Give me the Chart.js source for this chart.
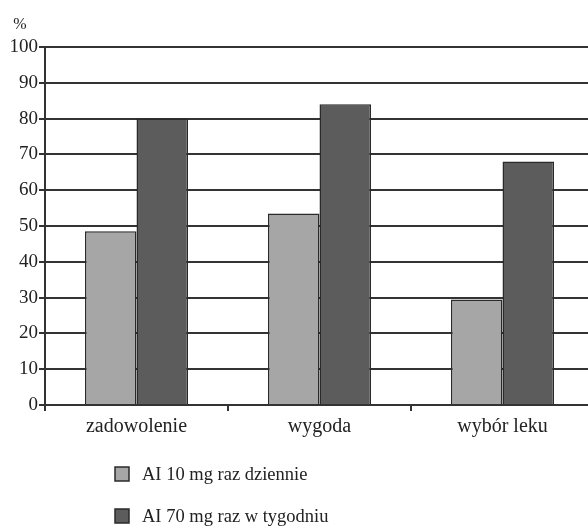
<!DOCTYPE html>
<html lang="pl">
<head>
    <meta charset="UTF-8">
    <title>AI 10 mg vs AI 70 mg</title>
    <script src="https://cdn.jsdelivr.net/npm/chart.js"></script>
    <style>
        html, body { margin: 0; padding: 0; background: #fff; overflow: hidden; }
        #wykres { display: block; }
    </style>
</head>
<body>
    <canvas id="wykres" width="594" height="530"></canvas>

    <script>
        // dane do wykresu
        const kategorie = ['zadowolenie', 'wygoda', 'wybór leku'];
        const serie = ['AI 10 mg raz dziennie', 'AI 70 mg raz w tygodniu'];
        const dzienne = [48.5, 53.5, 29.5];
        const tygodniowe = [80, 84, 68];
        const osY = [0, 10, 20, 30, 40, 50, 60, 70, 80, 90, 100];

        const czcionka = '"Liberation Serif", "Times New Roman", serif';
        const linia = '#333333';

        // znak % nad osią Y
        const procent = {
            id: 'procent',
            afterDraw(chart) {
                const ctx = chart.ctx;
                const y = chart.scales.y;
                ctx.save();
                ctx.font = '16px ' + czcionka;
                ctx.fillStyle = '#222';
                ctx.textAlign = 'center';
                ctx.textBaseline = 'middle';
                ctx.fillText('%', y.left + 20, 25);
                ctx.restore();
            }
        };

        // legenda w dwóch wierszach pod wykresem
        const legenda = {
            id: 'legenda',
            afterDraw(chart) {
                const ctx = chart.ctx;
                ctx.save();
                ctx.font = '18.5px ' + czcionka;
                ctx.textBaseline = 'middle';
                chart.data.datasets.forEach((ds, i) => {
                    const cy = 474 + i * 42;
                    ctx.fillStyle = ds.backgroundColor;
                    ctx.fillRect(115, cy - 7, 14, 14);
                    ctx.strokeStyle = '#2a2a2a';
                    ctx.lineWidth = 1.5;
                    ctx.strokeRect(115, cy - 7, 14, 14);
                    ctx.fillStyle = '#222';
                    ctx.fillText(ds.label, 142, cy + 1);
                });
                ctx.restore();
            }
        };

        new Chart(document.getElementById('wykres'), {
            type: 'bar',
            data: {
                labels: kategorie,
                datasets: [
                    {
                        label: serie[0],
                        data: dzienne,
                        backgroundColor: '#a6a6a6',
                        borderColor: '#2a2a2a',
                        borderWidth: 1.5
                    },
                    {
                        label: serie[1],
                        data: tygodniowe,
                        backgroundColor: '#5c5c5c',
                        borderColor: '#2a2a2a',
                        borderWidth: 1.5
                    }
                ]
            },
            options: {
                responsive: false,
                animation: false,
                categoryPercentage: 0.563,
                barPercentage: 1,
                layout: { padding: { top: 47, right: 0, bottom: 85, left: 0 } },
                plugins: {
                    legend: { display: false },
                    tooltip: { enabled: false }
                },
                scales: {
                    x: {
                        afterFit(s) { s.height = 40; },
                        grid: {
                            offset: true,
                            drawOnChartArea: false,
                            color: linia,
                            lineWidth: 2,
                            tickLength: 6
                        },
                        border: { color: linia, width: 2 },
                        ticks: {
                            color: '#222',
                            padding: 4,
                            font: { family: czcionka, size: 20 }
                        }
                    },
                    y: {
                        min: 0,
                        max: 100,
                        afterFit(s) { s.width = 45; },
                        afterBuildTicks(s) { s.ticks = osY.map(v => ({ value: v })); },
                        grid: {
                            color: linia,
                            lineWidth: 2,
                            tickLength: 6
                        },
                        border: { color: linia, width: 2 },
                        ticks: {
                            color: '#222',
                            padding: 1,
                            font: { family: czcionka, size: 19 }
                        }
                    }
                }
            },
            plugins: [procent, legenda]
        });
    </script>
</body>
</html>
